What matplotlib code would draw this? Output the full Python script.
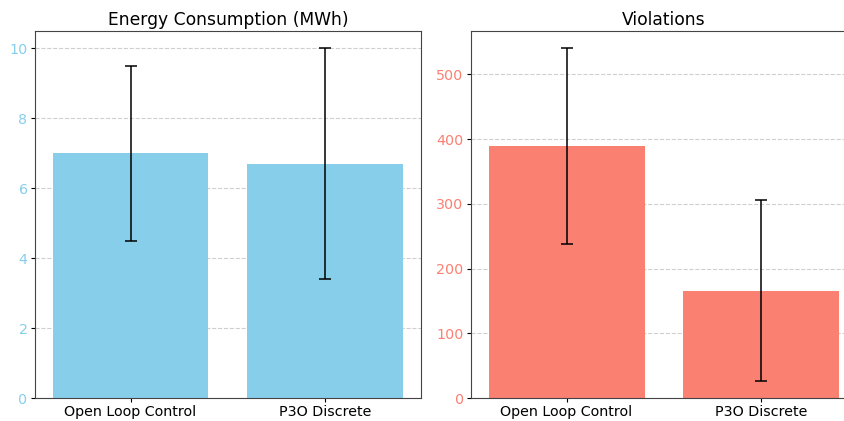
import matplotlib
matplotlib.use("Agg")
import matplotlib.pyplot as plt

# data
methods = ["Open Loop Control", "P3O Discrete"]
energy_mean = [7.0, 6.7]
energy_std = [2.5, 3.3]
viol_mean = [389, 166]
viol_std = [151, 140]

fig = plt.figure(figsize=(8.45, 4.21), dpi=100)
ax1 = fig.add_axes([0.0414, 0.0546, 0.4568, 0.872])
ax2 = fig.add_axes([0.5574, 0.0546, 0.4568, 0.872])

err_kw = dict(elinewidth=1.1, capthick=1.1)

# left: energy
ax1.bar(methods, energy_mean, yerr=energy_std, color="skyblue", capsize=4,
        ecolor="black", error_kw=err_kw)
ax1.set_title("Energy Consumption (MWh)", fontsize=12.3, pad=4)
ax1.tick_params(axis="y", labelcolor="skyblue")
ax1.tick_params(labelsize=10.3, length=2.8, pad=2.5)
ax1.grid(axis="y", linestyle="--", alpha=0.6)
ax1.set_axisbelow(True)

# right: violations
ax2.bar(methods, viol_mean, yerr=viol_std, color="salmon", capsize=4,
        ecolor="black", error_kw=err_kw)
ax2.set_title("Violations", fontsize=12.3, pad=4)
ax2.tick_params(axis="y", labelcolor="salmon")
ax2.tick_params(labelsize=10.3, length=2.8, pad=2.5)
ax2.grid(axis="y", linestyle="--", alpha=0.6)
ax2.set_axisbelow(True)

for ax in (ax1, ax2):
    for s in ax.spines.values():
        s.set_linewidth(0.8)
        s.set_color("#444444")

fig.savefig("out.png", dpi=100)
